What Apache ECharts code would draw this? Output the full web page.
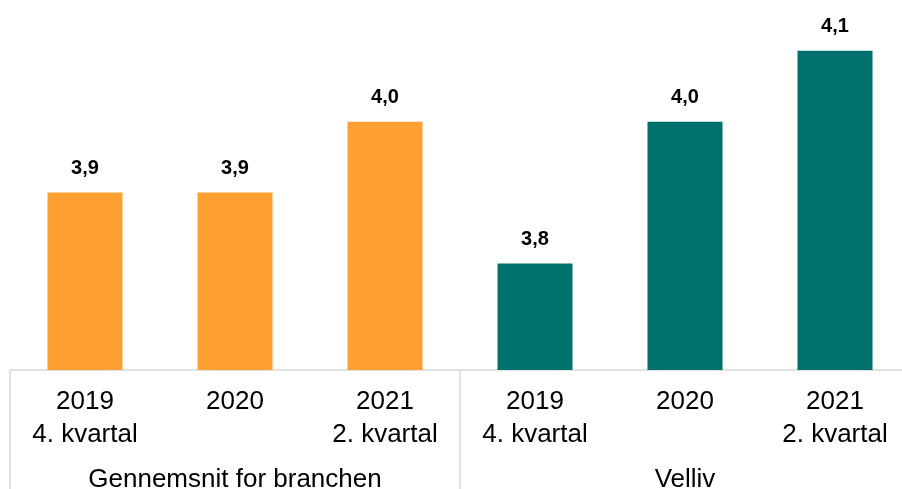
<!DOCTYPE html>
<html>
<head>
<meta charset="utf-8">
<script src="https://cdn.jsdelivr.net/npm/echarts@6/dist/echarts.min.js"></script>
<style>
  html, body { margin: 0; padding: 0; background: #fff; }
  #chart { width: 902px; height: 489px; }
</style>
</head>
<body>
<div id="chart"></div>
<script>
const categories = ['2019\n4. kvartal', '2020', '2021\n2. kvartal', '2019\n4. kvartal', '2020', '2021\n2. kvartal']
const values = [3.9, 3.9, 4.0, 3.8, 4.0, 4.1]
const groups = ['Gennemsnit for branchen', 'Velliv']

const chart = echarts.init(document.getElementById('chart'))
chart.setOption({
  animation: false,
  grid: { left: 10, width: 900, top: 1, bottom: 119, containLabel: false, outerBoundsMode: 'none' },
  xAxis: [
    {
      type: 'category',
      data: categories,
      axisLine: { show: false },
      axisTick: { show: false },
      axisLabel: {
        margin: 15,
        fontFamily: 'Liberation Sans, Arial, sans-serif',
        fontSize: 26,
        lineHeight: 33,
        color: '#000'
      }
    },
    {
      type: 'category',
      data: groups,
      position: 'bottom',
      axisLine: { show: true, lineStyle: { color: '#d9d9d9', width: 1.5 } },
      axisTick: { show: true, interval: 0, length: 125, lineStyle: { color: '#d9d9d9', width: 1.5 } },
      axisLabel: {
        margin: 97,
        fontFamily: 'Liberation Sans, Arial, sans-serif',
        fontSize: 26,
        color: '#000'
      }
    }
  ],
  yAxis: {
    type: 'value',
    min: 3.65,
    max: 4.17,
    show: false,
    splitLine: { show: false }
  },
  series: [
    {
      type: 'bar',
      data: values,
      barWidth: '50%',
      itemStyle: {
        color: (p) => (p.dataIndex < 3 ? '#FFA033' : '#00706C')
      },
      label: {
        show: true,
        position: 'top',
        distance: 14,
        fontFamily: 'Liberation Sans, Arial, sans-serif',
        fontSize: 20,
        fontWeight: 'bold',
        color: '#000',
        formatter: (p) => p.value.toFixed(1).replace('.', ',')
      }
    }
  ]
})
</script>
</body>
</html>
